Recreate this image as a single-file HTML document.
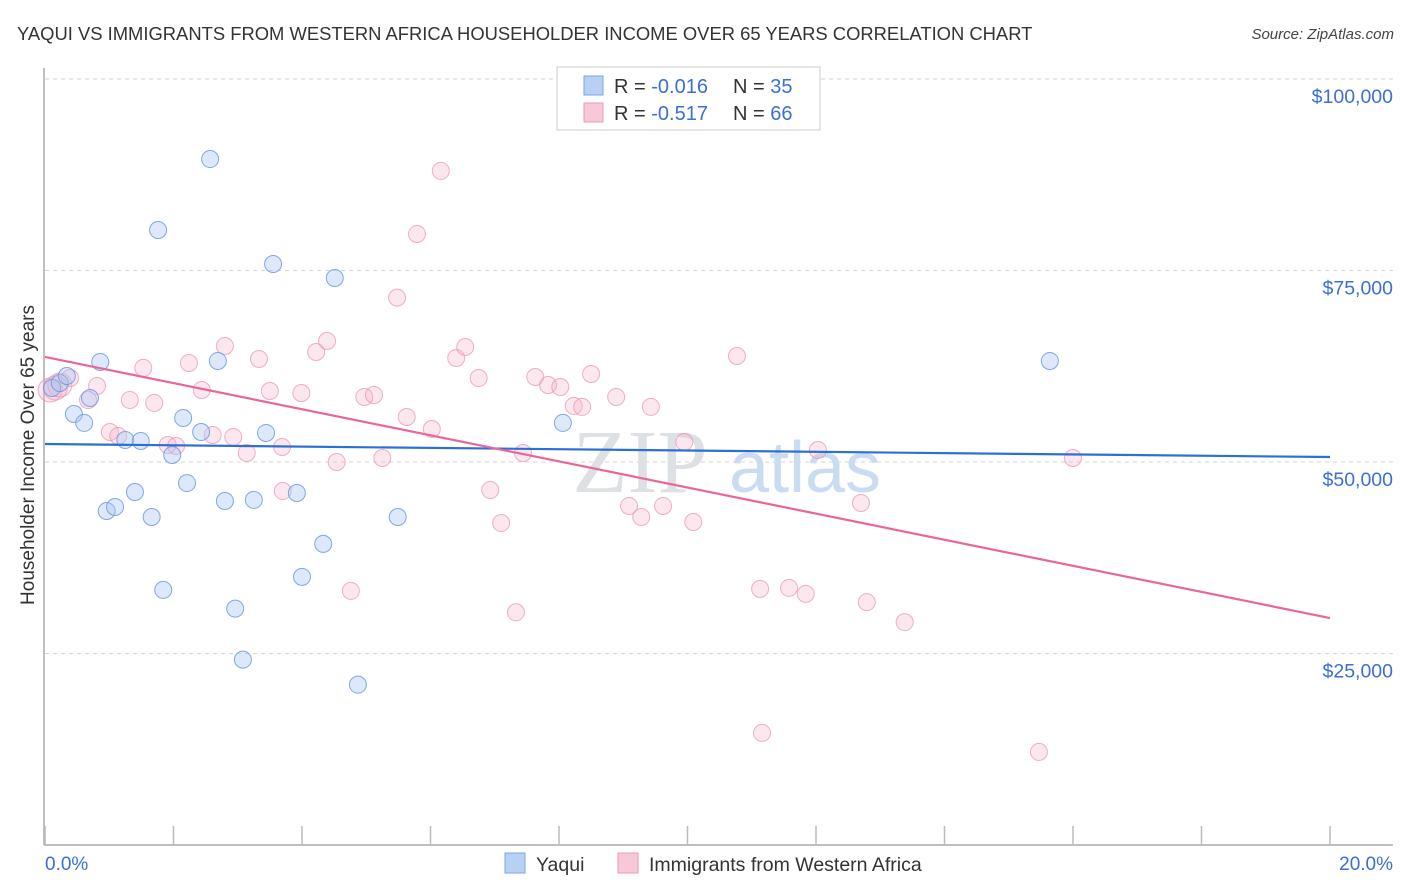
<!DOCTYPE html>
<html><head><meta charset="utf-8"><style>
body{margin:0;background:#fff;font-family:"Liberation Sans",sans-serif;}
svg{display:block}
</style></head><body>
<svg id="chart" width="1406" height="892">
<text x="17" y="40" font-size="18.4" fill="#333">YAQUI VS IMMIGRANTS FROM WESTERN AFRICA HOUSEHOLDER INCOME OVER 65 YEARS CORRELATION CHART</text>
<text x="1394" y="39" font-size="15" font-style="italic" fill="#444" text-anchor="end">Source: ZipAtlas.com</text>
<g id="grid"></g>
<text x="640" y="492" font-size="90" fill="#dde0e4" font-family="Liberation Serif,serif" text-anchor="middle">ZIP</text>
<text x="805" y="492" font-size="72" fill="#c9dcf2" text-anchor="middle">atlas</text>
<g id="axes"></g>
<g id="marks"></g>
<text x="34" y="455" font-size="19" fill="#333" text-anchor="middle" transform="rotate(-90 34 455)">Householder Income Over 65 years</text>
<text x="45" y="870" font-size="19" fill="#3b6fd4">0.0%</text>
<text x="1393" y="870" font-size="19" fill="#3b6fd4" text-anchor="end">20.0%</text>
<g>
<rect x="557" y="67" width="263" height="63" fill="#fff" stroke="#ccc"/>
<rect x="584" y="76" width="19" height="19" fill="#b9d0f5" stroke="#7ea6e0"/>
<rect x="584" y="103" width="19" height="19" fill="#f9c8d8" stroke="#e89ab5"/>
<text x="614" y="93" font-size="20" fill="#333">R = <tspan fill="#3b6fd4">-0.016</tspan><tspan x="733">N = </tspan><tspan fill="#3b6fd4">35</tspan></text>
<text x="614" y="120" font-size="20" fill="#333">R = <tspan fill="#3b6fd4"> -0.517</tspan><tspan x="733">N = </tspan><tspan fill="#3b6fd4">66</tspan></text>
</g>
<g>
<rect x="505" y="853" width="20" height="20" fill="#b9d0f5" stroke="#7ea6e0"/>
<text x="536" y="871" font-size="19.5" fill="#333">Yaqui</text>
<rect x="618" y="853" width="20" height="20" fill="#f9c8d8" stroke="#e89ab5"/>
<text x="649" y="871" font-size="19.5" fill="#333">Immigrants from Western Africa</text>
</g>
</svg>
<script>
const yTicks=[25000,50000,75000,100000];
const yTickLabels=["$25,000","$50,000","$75,000","$100,000"];
const xTicks=[0,2,4,6,8,10,12,14,16,18,20];
const yaquiX=[0.11,0.23,0.34,0.45,0.61,0.70,0.86,0.96,1.09,1.25,1.40,1.49,1.66,1.76,1.84,1.98,2.15,2.21,2.43,2.57,2.69,2.80,2.96,3.08,3.25,3.44,3.55,3.92,4.00,4.33,4.51,4.87,5.49,8.06,15.64];
const yaquiY=[59660,60310,61230,56270,55100,58360,63060,43600,44130,52870,46080,52740,42820,80290,33300,50910,55750,47250,53920,89550,63190,44910,30860,24200,45050,53790,75850,45950,35000,39310,74020,20930,42820,55100,63190];
const afrX=[0.08,0.16,0.23,0.39,0.67,0.81,1.01,1.14,1.32,1.53,1.70,1.91,2.04,2.24,2.44,2.61,2.80,2.93,3.14,3.33,3.50,3.69,3.70,3.99,4.22,4.39,4.54,4.76,4.97,5.12,5.25,5.48,5.63,5.79,6.02,6.16,6.40,6.54,6.75,6.93,7.10,7.33,7.44,7.63,7.83,8.02,8.23,8.36,8.50,8.89,9.09,9.28,9.43,9.62,9.95,10.09,10.77,11.13,11.16,11.58,11.84,12.03,12.70,12.79,13.38,15.47,16.00];
const afrY=[59400,59660,60050,60970,58100,59920,53920,53400,58100,62280,57710,52220,52090,62930,59400,53530,65140,53270,51180,63450,59270,51960,46210,59010,64360,65800,50000,33170,58490,58750,50520,71460,55880,79770,54310,88000,63580,65010,60960,46340,42030,30380,51180,61100,60050,59790,57320,57190,61490,58490,44260,42820,57190,44260,52610,42170,63840,33430,14630,33560,32780,51570,44650,31700,29090,12150,50520];
const yaquiTrend=[52350,50650];
const afrTrend=[63710,29630];
const X0=45,X1=1330,Y50=462,PX=191.5/25000;
const xs=v=>X0+(X1-X0)*v/20;
const ys=v=>Y50-(v-50000)*PX;
const NS="http://www.w3.org/2000/svg";
function mk(t,a,p){const e=document.createElementNS(NS,t);for(const k in a)e.setAttribute(k,a[k]);p.appendChild(e);return e;}
const grid=document.getElementById('grid'),axes=document.getElementById('axes'),marks=document.getElementById('marks');
yTicks.forEach((v,i)=>{
 const l=mk('line',{x1:45,x2:1393,y1:ys(v),y2:ys(v),stroke:'#d5d5d5','stroke-dasharray':'4 4'},grid);
 
 
 const t=mk('text',{x:1393,y:ys(v)+24,'font-size':19.5,fill:'#3b6fd4','text-anchor':'end'},grid);
 t.textContent=yTickLabels[i];
 
 
});
const topl=mk('line',{x1:45,x2:1393,y1:79,y2:79,stroke:'#d5d5d5','stroke-dasharray':'4 4'},grid);


const ya=mk('line',{x1:44,x2:44,y1:68,y2:845,stroke:'#aaa','stroke-width':1.5},axes);


const xa=mk('line',{x1:44,x2:1393,y1:845,y2:845,stroke:'#aaa','stroke-width':1.5},axes);


xTicks.forEach(v=>{
 const t=mk('line',{x1:xs(v),x2:xs(v),y1:826,y2:845,stroke:'#bbb','stroke-width':1.5},axes);
 
 
});
afrX.forEach((x,i)=>{
 const c=mk('circle',{cx:xs(x),cy:ys(afrY[i]),r:i<3?12:8.5,fill:'rgba(246,175,200,0.3)',stroke:'rgba(232,150,180,0.75)','stroke-width':1},marks);
 
 
});
yaquiX.forEach((x,i)=>{
 const c=mk('circle',{cx:xs(x),cy:ys(yaquiY[i]),r:8.5,fill:'rgba(170,200,244,0.4)',stroke:'rgba(100,148,222,0.8)','stroke-width':1},marks);
 
 
});
const bt=mk('line',{x1:xs(0),x2:xs(20),y1:ys(yaquiTrend[0]),y2:ys(yaquiTrend[1]),stroke:'#2c6fd6','stroke-width':2.2},marks);


const pt=mk('line',{x1:xs(0),x2:xs(20),y1:ys(afrTrend[0]),y2:ys(afrTrend[1]),stroke:'#e8669a','stroke-width':2.2},marks);


</script>
</body></html>
